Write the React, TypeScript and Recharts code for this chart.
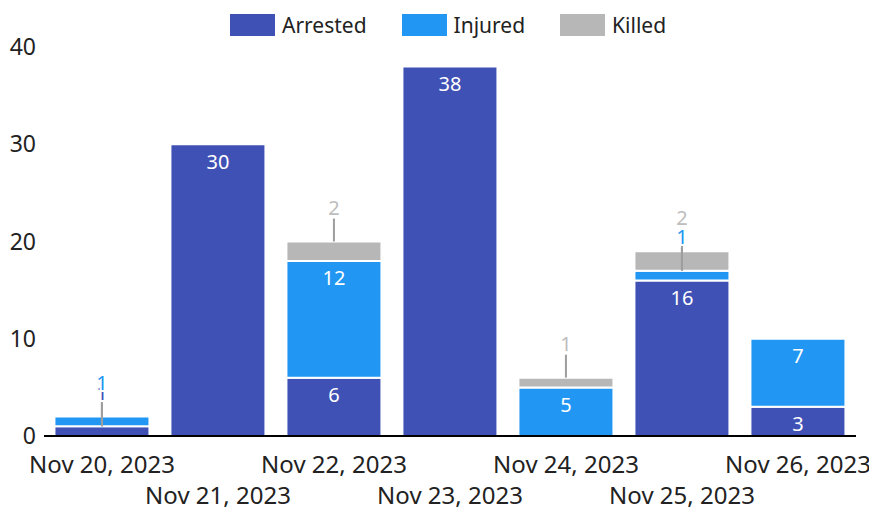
import { BarChart, Bar, XAxis, YAxis, LabelList } from "recharts";

const dates = ["Nov 20, 2023", "Nov 21, 2023", "Nov 22, 2023", "Nov 23, 2023", "Nov 24, 2023", "Nov 25, 2023", "Nov 26, 2023"];
const arrested = [1, 30, 6, 38, 0, 16, 3];
const injured = [1, 0, 12, 0, 5, 1, 7];
const killed = [0, 0, 2, 0, 1, 2, 0];
const yTicks = [0, 10, 20, 30, 40];

const series = [
  { key: "arrested", name: "Arrested", color: "#3f51b5", text: "#3f51b5", values: arrested },
  { key: "injured", name: "Injured", color: "#2196f3", text: "#2196f3", values: injured },
  { key: "killed", name: "Killed", color: "#b7b7b7", text: "#bdbdbd", values: killed },
];

const data = dates.map((d, i) => ({ date: d, arrested: arrested[i], injured: injured[i], killed: killed[i] }));

const FONT = "'Noto Sans', sans-serif";
const isOutside = (v: number) => v > 0 && v <= 2;

function outLine(cx: number, top: number) {
  return <line x1={cx} y1={top} x2={cx} y2={top - 23} stroke="#9e9e9e" strokeWidth={2} />;
}

function outText(cx: number, top: number, value: number, color: string) {
  return (
    <text x={cx} y={top - 34} textAnchor="middle" dominantBaseline="central" fill={color}
      stroke="#fff" strokeWidth={4} paintOrder="stroke" fontSize={20} fontFamily={FONT}>
      {value}
    </text>
  );
}

// labels of small segments sit above the stack with a leader line;
// lines go under the labels, so the series below is redrawn on top of this one
function makeLabel(si: number) {
  const s = series[si];
  return (props: any) => {
    const { x, y, width, height, value: date } = props;
    const i = dates.indexOf(date);
    if (i < 0) return null;
    const value = s.values[i];
    if (!value) return null;
    const cx = x + width / 2;
    if (isOutside(value)) {
      const below = si > 0 ? series[si - 1] : null;
      const belowVal = below ? below.values[i] : 0;
      const belowTop = y + height;
      return (
        <g>
          {below && isOutside(belowVal) && outLine(cx, belowTop)}
          {outLine(cx, y)}
          {below && isOutside(belowVal) && outText(cx, belowTop, belowVal, below.text)}
          {outText(cx, y, value, s.text)}
        </g>
      );
    }
    return (
      <text x={cx} y={y + 17} textAnchor="middle" dominantBaseline="central" fill="#fff" fontSize={20} fontFamily={FONT}>
        {value}
      </text>
    );
  };
}

function DateTick(props: any) {
  const { x, y, payload, index } = props;
  const dy = index % 2 === 0 ? 19 : 50;
  return (
    <text x={x} y={y + dy} textAnchor="middle" dominantBaseline="central" fill="#222" fontSize={24} fontFamily={FONT}>
      {payload.value}
    </text>
  );
}

export default function App() {
  return (
    <div style={{ position: "absolute", left: 0, top: 0, width: 869, height: 507, background: "#fff" }}>
      <div style={{ position: "absolute", top: 14, left: 230, display: "flex", fontFamily: FONT, fontSize: 21, color: "#222", zIndex: 1, lineHeight: "22px" }}>
        {series.map((s) => (
          <div key={s.key} style={{ display: "flex", alignItems: "center", marginRight: 35 }}>
            <div style={{ width: 45, height: 22, background: s.color, marginRight: 7 }} />
            <span>{s.name}</span>
          </div>
        ))}
      </div>
      <BarChart width={869} height={507} data={data} margin={{ top: 47, right: 13, left: 0, bottom: 0 }} barCategoryGap="9%">
        <YAxis domain={[0, 40]} ticks={yTicks} width={44} axisLine={false} tickLine={false}
          tick={{ fontSize: 23, fontFamily: FONT, fill: "#222" }} />
        {series.map((s, si) => (
          <Bar key={s.key} dataKey={s.key} name={s.name} stackId="a" fill={s.color} stroke="#fff" strokeWidth={2} isAnimationActive={false}>
            <LabelList dataKey="date" content={makeLabel(si)} />
          </Bar>
        ))}
        <XAxis dataKey="date" height={71} interval={0} tickLine={false} axisLine={{ stroke: "#000", strokeWidth: 2 }} tick={<DateTick />} />
      </BarChart>
    </div>
  );
}
